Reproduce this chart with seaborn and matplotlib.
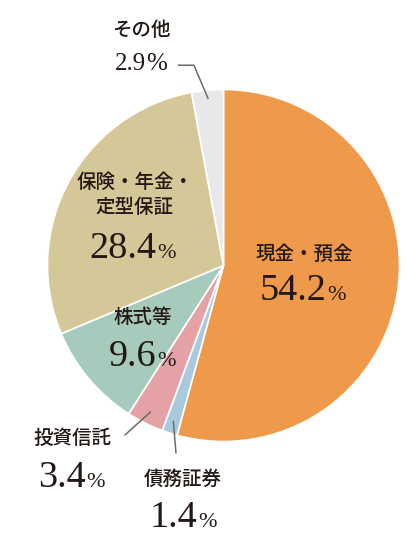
import matplotlib
matplotlib.use("Agg")
import matplotlib.pyplot as plt
import seaborn as sns
import numpy as np

# ---- data ----
categories = ["現金・預金", "債務証券", "投資信託", "株式等", "保険・年金・\n定型保証", "その他"]
values = [54.2, 1.4, 3.4, 9.6, 28.4, 2.9]
value_labels = ["54.2", "1.4", "3.4", "9.6", "28.4", "2.9"]
colors = ["#EF9A4A", "#A9C9DD", "#E5A2A6", "#A6CABC", "#D5C898", "#E8E8EA"]

sns.set_theme(style="white")
plt.rcParams['font.family'] = ['Noto Sans CJK JP', 'DejaVu Sans']

PX = 176.0          # pixels per pie-radius unit
CX, CY = 223.5, 265.5
W, H = 413, 560

fig = plt.figure(figsize=(W / 100, H / 100), dpi=100)
fig.patch.set_facecolor("white")
ax = fig.add_axes([0, 0, 1, 1])

wedges, _ = ax.pie(values, colors=colors, startangle=90, counterclock=False,
                   radius=1.0, wedgeprops=dict(edgecolor="white", linewidth=1.2))
ax.set_xlim(-CX / PX, (W - CX) / PX)
ax.set_ylim(-(H - CY) / PX, CY / PX)
ax.axis("off")

TXT = "#231815"
SERIF = "Liberation Serif"

# ---- layout (pie units) ----
name_pos = {
    0: (0.460, 0.065),
    1: (-0.233, -1.213),
    2: (-0.858, -0.983),
    3: (-0.460, -0.295),
    4: (-0.505, 0.400),
    5: (-0.469, 1.338),
}
pct_pos = {
    0: (0.449, -0.196),
    1: (-0.230, -1.486),
    2: (-0.864, -1.259),
    3: (-0.460, -0.571),
    4: (-0.514, 0.043),
    5: (-0.469, 1.111),
}
pct_sizes = {5: (18, 18)}
default_sizes = (27.5, 16)

for i, name in enumerate(categories):
    x, y = name_pos[i]
    ax.text(x, y, name, ha="center", va="center", fontsize=14, color=TXT,
            linespacing=1.45, fontweight="medium")

pieces = []
for i, num in enumerate(value_labels):
    big, small = pct_sizes.get(i, default_sizes)
    t1 = ax.text(0, 0, num, fontsize=big, family=SERIF, color=TXT,
                 ha="left", va="baseline")
    t2 = ax.text(0, 0, "%", fontsize=small, family=SERIF, color=TXT,
                 ha="left", va="baseline")
    pieces.append((i, t1, t2, 0.0 if big == small else 0.005))

fig.canvas.draw()
r = fig.canvas.get_renderer()
for i, t1, t2, gap in pieces:
    w1 = t1.get_window_extent(r).width / PX
    w2 = t2.get_window_extent(r).width / PX
    cx, by = pct_pos[i]
    x0 = cx - (w1 + w2 + gap) / 2
    t1.set_position((x0, by))
    t2.set_position((x0 + w1 + gap, by))

# ---- leader lines: inner end on the wedge's mid angle ----
total = sum(values)
angles = []
start = 90.0
for v in values:
    sweep = 360.0 * v / total
    angles.append(start - sweep / 2)
    start -= sweep

def inner(i, rr=0.94):
    a = np.deg2rad(angles[i])
    return rr * np.cos(a), rr * np.sin(a)

LC = "#6b6b6b"
ix, iy = inner(5, 0.95)
ax.plot([-0.259, -0.168, ix], [1.138, 1.138, iy], color=LC, lw=1.1, solid_capstyle="butt")
ix, iy = inner(2, 0.93)
ax.plot([-0.560, ix], [-0.963, iy], color=LC, lw=1.1)
ix, iy = inner(1, 0.93)
ax.plot([-0.270, ix], [-1.065, iy], color=LC, lw=1.1)

fig.savefig("out.png", dpi=100, facecolor="white")
